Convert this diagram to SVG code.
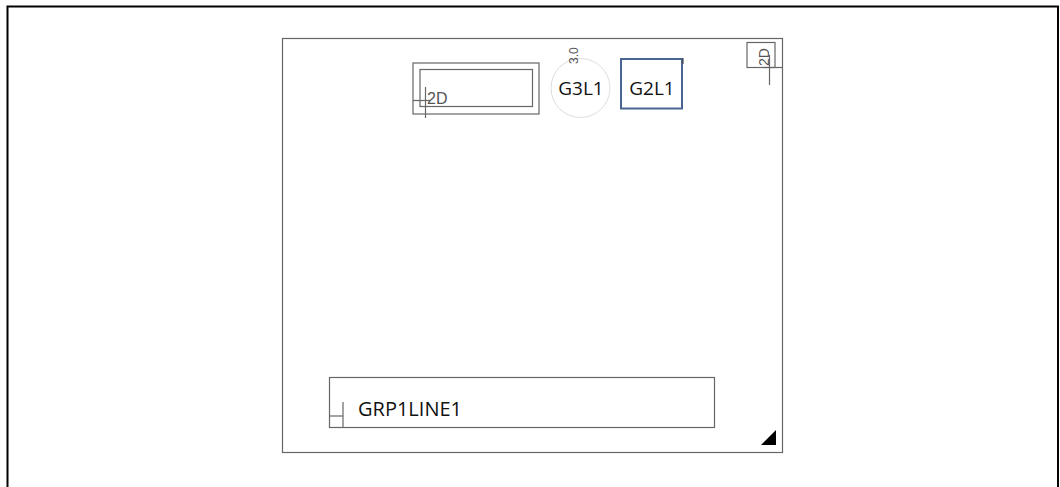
<svg xmlns="http://www.w3.org/2000/svg" width="1060" height="487" viewBox="0 0 1060 487">
<style>
.frame{fill:none;stroke:#000;stroke-width:2}
.thin{fill:none;stroke:#666;stroke-width:1.2}
.lbl{font-family:"Open Sans","Liberation Sans",sans-serif;fill:#111}
.small{font-family:"Liberation Sans",sans-serif;fill:#555}
</style>
<rect width="1060" height="487" fill="#fff"/>
<path class="frame" d="M7.5 490 V6.5 H1058 V490"/>
<g id="canvas">
<rect class="thin" x="282.5" y="38.5" width="500" height="414"/>
</g>
<g id="node-2d">
<rect class="thin" x="413" y="63" width="126" height="51"/>
<rect class="thin" x="420" y="69.5" width="112.5" height="37"/>
<line class="thin" x1="425.5" y1="87" x2="425.5" y2="118"/>
<line class="thin" x1="413" y1="100.5" x2="430" y2="100.5"/>
<text class="small" x="427" y="104" font-size="16">2D</text>
</g>
<g id="node-g3l1">
<circle cx="580.5" cy="88" r="29.5" fill="none" stroke="#ddd" stroke-width="1"/>
<text class="small" x="0" y="0" font-size="12" transform="translate(578 64) rotate(-90)">3.0</text>
<text class="lbl" x="581" y="95" font-size="19" text-anchor="middle">G3L1</text>
</g>
<g id="node-g2l1">
<rect x="621" y="59" width="61" height="49.5" fill="none" stroke="#4a6591" stroke-width="2"/>
<line x1="683" y1="58" x2="683" y2="64" stroke="#333" stroke-width="1"/>
<text class="lbl" x="652" y="95" font-size="19" text-anchor="middle">G2L1</text>
</g>
<g id="node-2d-small">
<rect class="thin" x="747" y="42.5" width="28" height="25"/>
<text class="small" x="0" y="0" font-size="14" transform="translate(768.5 66) rotate(-90)">2D</text>
<line class="thin" x1="769.5" y1="55" x2="769.5" y2="85"/>
<line class="thin" x1="762" y1="67.5" x2="782" y2="67.5"/>
</g>
<g id="node-grp1line1">
<rect class="thin" x="329.5" y="377.5" width="385" height="50"/>
<line class="thin" x1="343" y1="402" x2="343" y2="427.5"/>
<line class="thin" x1="329.5" y1="416" x2="343" y2="416"/>
<text class="lbl" x="358" y="416" font-size="20">GRP1LINE1</text>
</g>
<g id="connectors"></g>
<polygon points="761,445 776,445 776,430" fill="#000"/>
</svg>
